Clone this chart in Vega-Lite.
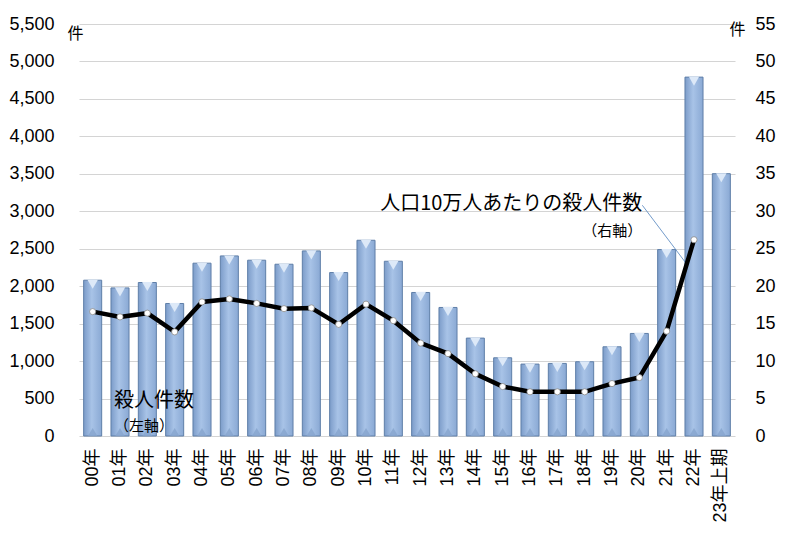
{
  "$schema": "https://vega.github.io/schema/vega-lite/v6.json",
  "width": 656,
  "height": 412,
  "autosize": "none",
  "padding": {"left": 79, "top": 24, "right": 63, "bottom": 105},
  "background": "white",
  "config": {
    "view": {"stroke": null},
    "font": "Liberation Sans, Noto Sans CJK JP, sans-serif",
    "axis": {"labelFont": "Liberation Sans, Noto Sans CJK JP, sans-serif", "titleFont": "Noto Sans CJK JP, sans-serif", "labelColor": "#000", "titleColor": "#000"}
  },
  "datasets": {
    "main": [
      {"year": "00年", "count": 2080, "rate": 16.6},
      {"year": "01年", "count": 1977, "rate": 15.9},
      {"year": "02年", "count": 2049, "rate": 16.4},
      {"year": "03年", "count": 1769, "rate": 13.9},
      {"year": "04年", "count": 2307, "rate": 17.9},
      {"year": "05年", "count": 2404, "rate": 18.3},
      {"year": "06年", "count": 2347, "rate": 17.7},
      {"year": "07年", "count": 2293, "rate": 17.0},
      {"year": "08年", "count": 2471, "rate": 17.1},
      {"year": "09年", "count": 2182, "rate": 14.9},
      {"year": "10年", "count": 2613, "rate": 17.6},
      {"year": "11年", "count": 2333, "rate": 15.4},
      {"year": "12年", "count": 1916, "rate": 12.4},
      {"year": "13年", "count": 1716, "rate": 11.0},
      {"year": "14年", "count": 1307, "rate": 8.3},
      {"year": "15年", "count": 1044, "rate": 6.6},
      {"year": "16年", "count": 960, "rate": 5.9},
      {"year": "17年", "count": 969, "rate": 5.9},
      {"year": "18年", "count": 991, "rate": 5.9},
      {"year": "19年", "count": 1191, "rate": 7.0},
      {"year": "20年", "count": 1369, "rate": 7.8},
      {"year": "21年", "count": 2489, "rate": 14.0},
      {"year": "22年", "count": 4791, "rate": 26.2},
      {"year": "23年上期", "count": 3502, "rate": null}
    ],
    "notes": [
      {"year": "01年", "count": 467, "label": "殺人件数", "size": 20, "side": "left"},
      {"year": "01年", "count": 140, "label": "（左軸）", "size": 15, "side": "left"},
      {"year": "20年", "count": 3093, "label": "人口10万人あたりの殺人件数", "size": 20, "side": "right"},
      {"year": "20年", "count": 2733, "label": "（右軸）", "size": 15, "side": "right"}
    ],
    "leader": [
      {"year": "20年", "year2": "22年", "count": 3080, "count2": 2307}
    ]
  },
  "encoding": {
    "x": {
      "field": "year", "type": "nominal", "sort": null,
      "scale": {"paddingInner": 0.34, "paddingOuter": 0.17},
      "axis": {"title": null, "labelAngle": -90, "labelAlign": "right", "labelBaseline": "middle", "labelFontSize": 18, "labelPadding": 12, "ticks": false, "domain": false}
    }
  },
  "layer": [
    {
      "encoding": {
        "y": {
          "field": "count", "type": "quantitative",
          "scale": {"domain": [0, 5500], "nice": false},
          "axis": {
            "values": [0, 500, 1000, 1500, 2000, 2500, 3000, 3500, 4000, 4500, 5000, 5500],
            "format": ",d", "labelFontSize": 18, "labelPadding": 25, "ticks": false, "domain": false,
            "grid": true, "gridColor": "#d4d4d4", "gridWidth": 1.2,
            "title": "件", "titleAngle": 0, "titleFontSize": 16, "titleFontWeight": "normal",
            "titleAlign": "center", "titleBaseline": "middle", "titleX": -4, "titleY": 9
          }
        }
      },
      "layer": [
        {
          "data": {"name": "main"},
          "mark": {
            "type": "bar",
            "stroke": "#5f7fa8",
            "strokeWidth": 1,
            "color": {
              "gradient": "linear", "x1": 0, "x2": 1, "y1": 0, "y2": 0,
              "stops": [
                {"offset": 0, "color": "#7c9cc9"},
                {"offset": 0.45, "color": "#a8c3e7"},
                {"offset": 1, "color": "#8aa9d4"}
              ]
            }
          }
        },
        {
          "data": {"name": "main"},
          "mark": {"type": "point", "shape": "triangle-down", "filled": true, "color": "#dde9f8", "opacity": 1, "size": 110, "yOffset": 4}
        },
        {
          "data": {"name": "main"},
          "mark": {"type": "point", "shape": "triangle-up", "filled": true, "color": "#86a4cd", "opacity": 0.8, "size": 90, "yOffset": -4},
          "encoding": {"y": {"datum": 0}}
        },
        {
          "data": {"name": "notes"},
          "transform": [{"filter": "datum.side == 'left'"}],
          "mark": {"type": "text", "font": "Noto Sans CJK JP, sans-serif", "color": "#000", "baseline": "middle", "align": "left", "dx": -6},
          "encoding": {
            "text": {"field": "label"},
            "size": {"field": "size", "type": "quantitative", "scale": null, "legend": null}
          }
        },
        {
          "data": {"name": "notes"},
          "transform": [{"filter": "datum.side == 'right'"}],
          "mark": {"type": "text", "font": "Noto Sans CJK JP, sans-serif", "color": "#000", "baseline": "middle", "align": "right", "dx": 3},
          "encoding": {
            "text": {"field": "label"},
            "size": {"field": "size", "type": "quantitative", "scale": null, "legend": null}
          }
        },
        {
          "data": {"name": "leader"},
          "mark": {"type": "rule", "color": "#4f81bd", "strokeWidth": 0.8, "xOffset": 3, "x2Offset": -8},
          "encoding": {
            "x2": {"field": "year2"},
            "y2": {"field": "count2"}
          }
        }
      ]
    },
    {
      "data": {"name": "main"},
      "transform": [{"filter": "datum.rate != null"}],
      "encoding": {
        "y": {
          "field": "rate", "type": "quantitative",
          "scale": {"domain": [0, 55], "nice": false},
          "axis": {
            "orient": "right",
            "values": [0, 5, 10, 15, 20, 25, 30, 35, 40, 45, 50, 55],
            "labelFontSize": 18, "labelPadding": 20, "ticks": false, "domain": false, "grid": false,
            "title": "件", "titleAngle": 0, "titleFontSize": 16, "titleFontWeight": "normal",
            "titleAlign": "center", "titleBaseline": "middle", "titleX": 2, "titleY": 5
          }
        }
      },
      "layer": [
        {
          "mark": {"type": "line", "color": "#000", "strokeWidth": 4.5},
          "encoding": {}
        },
        {
          "mark": {"type": "point", "filled": true, "color": "#ffffff", "stroke": "#888", "strokeWidth": 0.8, "size": 38, "opacity": 1},
          "encoding": {}
        }
      ]
    }
  ],
  "resolve": {"scale": {"y": "independent"}}
}
